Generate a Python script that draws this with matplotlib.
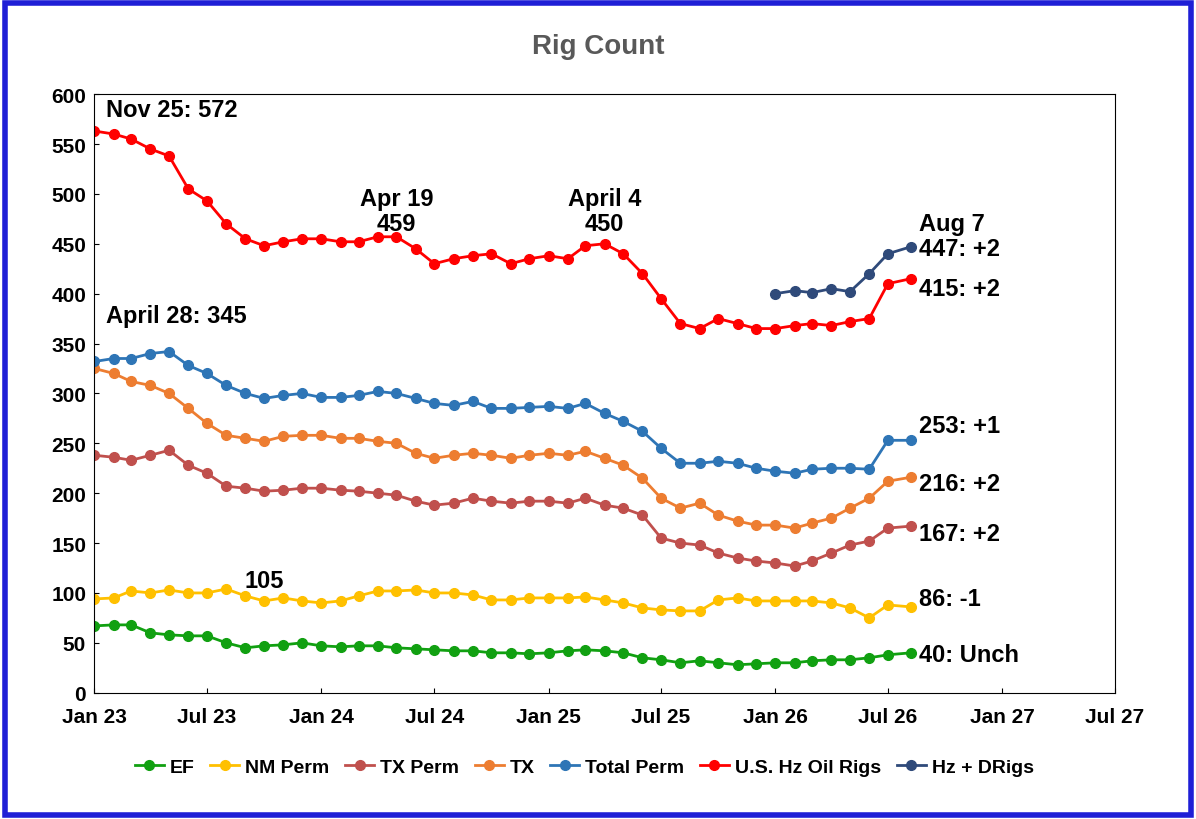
import matplotlib
matplotlib.use("Agg")
import matplotlib.pyplot as plt
import matplotlib.dates as mdates
from matplotlib.patches import Rectangle
import pandas as pd

plt.rcParams.update({"font.family": "Liberation Sans", "font.weight": "bold", "font.size": 14})

dates = list(pd.date_range("2023-01-01", "2026-07-01", freq="MS")) + [pd.Timestamp("2026-08-07")]

us_hz = [563, 560, 555, 545, 538, 505, 493, 470, 455, 448, 452, 455,
         455, 452, 452, 457, 457, 445, 430, 435, 438, 440, 430, 435,
         438, 435, 448, 450, 440, 420, 395, 370, 365, 375, 370, 365,
         365, 368, 370, 368, 372, 375, 410, 415]
hz_dr = [400, 403, 401, 405, 402, 420, 440, 447]
total_perm = [332, 335, 335, 340, 342, 328, 320, 308, 300, 295, 298, 300,
              296, 296, 298, 302, 300, 295, 290, 288, 292, 285, 285, 286,
              287, 285, 290, 280, 272, 262, 245, 230, 230, 232, 230, 225,
              222, 220, 224, 225, 225, 224, 253, 253]
tx = [325, 320, 312, 308, 300, 285, 270, 258, 255, 252, 257, 258,
      258, 255, 255, 252, 250, 240, 235, 238, 240, 238, 235, 238,
      240, 238, 242, 235, 228, 215, 195, 185, 190, 178, 172, 168,
      168, 165, 170, 175, 185, 195, 212, 216]
tx_perm = [238, 236, 233, 238, 243, 228, 220, 207, 205, 202, 203, 205,
           205, 203, 202, 200, 198, 192, 188, 190, 195, 192, 190, 192,
           192, 190, 195, 188, 185, 178, 155, 150, 148, 140, 135, 132,
           130, 127, 132, 140, 148, 152, 165, 167]
nm_perm = [94, 95, 102, 100, 103, 100, 100, 104, 97, 92, 95, 92,
           90, 92, 97, 102, 102, 103, 100, 100, 98, 93, 93, 95,
           95, 95, 96, 93, 90, 85, 83, 82, 82, 93, 95, 92,
           92, 92, 92, 90, 85, 75, 88, 86]
ef = [67, 68, 68, 60, 58, 57, 57, 50, 45, 47, 48, 50,
      47, 46, 47, 47, 45, 44, 43, 42, 42, 40, 40, 39,
      40, 42, 43, 42, 40, 35, 33, 30, 32, 30, 28, 29,
      30, 30, 32, 33, 33, 35, 38, 40]

fig = plt.figure(figsize=(11.96, 8.2), dpi=100)
ax = fig.add_axes([0.079, 0.154, 0.853, 0.730])
fig.patches.append(Rectangle((0.004, 0.005), 0.992, 0.99, transform=fig.transFigure,
                             fill=False, edgecolor="#1f1fd6", linewidth=4))

series = [
    ("EF", ef, "#11a011"),
    ("NM Perm", nm_perm, "#ffc000"),
    ("TX Perm", tx_perm, "#c0504d"),
    ("TX", tx, "#ed7d31"),
    ("Total Perm", total_perm, "#2e75b6"),
    ("U.S. Hz Oil Rigs", us_hz, "#ff0000"),
]
for name, vals, col in series:
    ax.plot(dates, vals, color=col, marker="o", markersize=7, linewidth=2, label=name)
ax.plot(dates[-8:], hz_dr, color="#2f4a7a", marker="o", markersize=7, linewidth=2, label="Hz + DRigs")

ax.set_ylim(0, 600)
ax.set_yticks(range(0, 601, 50))
ax.set_xlim(pd.Timestamp("2023-01-01"), pd.Timestamp("2027-07-01"))
ax.xaxis.set_major_locator(mdates.MonthLocator(bymonth=[1, 7]))
ax.xaxis.set_major_formatter(mdates.DateFormatter("%b %y"))
ax.tick_params(labelsize=15, direction="in")
ax.tick_params(axis="x", pad=10)
ax.tick_params(axis="y", pad=6)
for lab in ax.get_xticklabels() + ax.get_yticklabels():
    lab.set_fontweight("bold")
fig.text(0.5, 0.943, "Rig Count", fontsize=20, color="#595959", fontweight="bold",
         ha="center", va="center")

notes = [
    ("2023-01-20", 585, "Nov 25: 572", "left"),
    ("2024-05-01", 483, "Apr 19\n459", "center"),
    ("2025-04-01", 483, "April 4\n450", "center"),
    ("2023-01-20", 378, "April 28: 345", "left"),
    ("2023-10-01", 112, "105", "center"),
    ("2026-08-20", 458, "Aug 7\n447: +2", "left"),
    ("2026-08-20", 405, "415: +2", "left"),
    ("2026-08-20", 268, "253: +1", "left"),
    ("2026-08-20", 210, "216: +2", "left"),
    ("2026-08-20", 160, "167: +2", "left"),
    ("2026-08-20", 94, "86: -1", "left"),
    ("2026-08-20", 38, "40: Unch", "left"),
]
for d, y, t, ha in notes:
    ax.text(pd.Timestamp(d), y, t, fontsize=17, fontweight="bold", ha=ha, va="center",
            linespacing=1.1)

ax.legend(loc="upper center", bbox_to_anchor=(0.48, -0.08), ncol=7, frameon=False,
          fontsize=14, handlelength=1.5, columnspacing=0.8, handletextpad=0.3)

fig.savefig("out.png", dpi=100)
